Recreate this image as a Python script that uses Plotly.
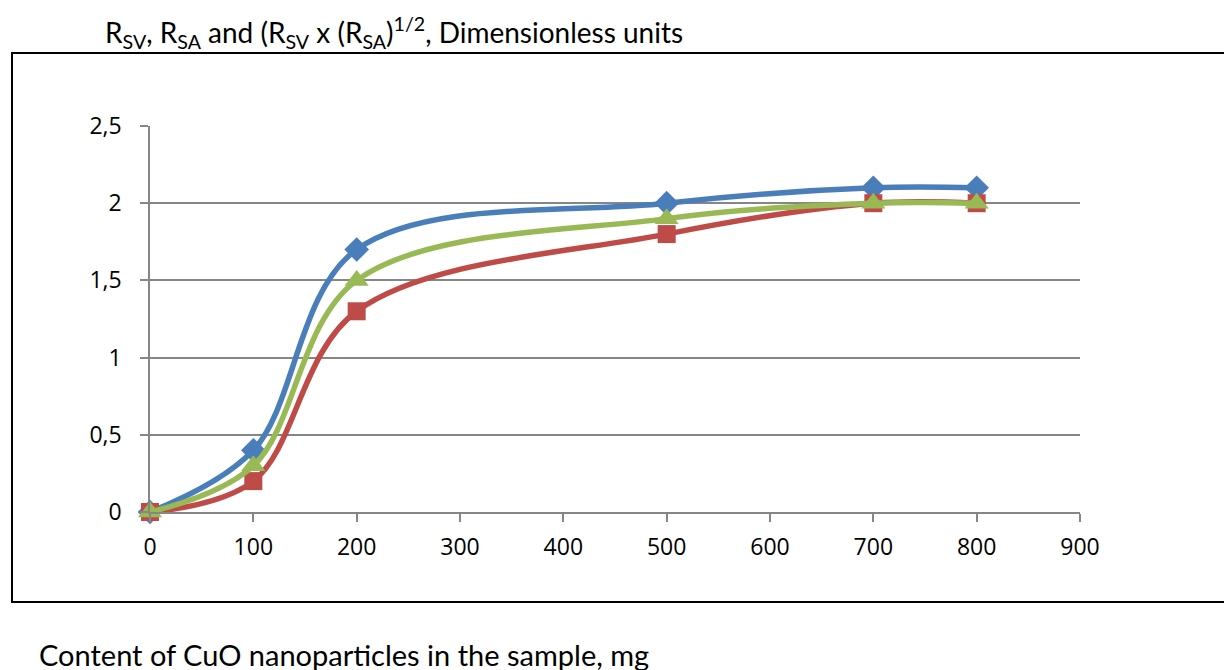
import plotly.graph_objects as go

x_mg = [0, 100, 200, 500, 700, 800]
r_sv = [0, 0.4, 1.7, 2.0, 2.1, 2.1]
r_sa = [0, 0.2, 1.3, 1.8, 2.0, 2.0]
r_geo = [0, 0.3, 1.5, 1.9, 2.0, 2.0]
x_ticks = [0, 100, 200, 300, 400, 500, 600, 700, 800, 900]
y_ticks = [0, 0.5, 1, 1.5, 2, 2.5]

title_text = "R<sub>SV</sub>, R<sub>SA</sub> and (R<sub>SV</sub> x (R<sub>SA</sub>)<sup>1/2</sup>, Dimensionless units"
xlabel_text = "Content of CuO nanoparticles in the sample, mg"

W, H = 1224, 670
L, R, T, B = 150, 1080, 126, 512

def px(xp):
    return (xp - L) / (R - L)

def py(yp):
    return (B - yp) / (B - T)

fig = go.Figure()
series = [
    ("R_SV", r_sv, "#4A7EBB", "diamond", 19),
    ("R_SA", r_sa, "#BE4B48", "square", 18),
    ("geo", r_geo, "#98B954", "triangle-up", 21),
]
for name, ys, col, sym, sz in series:
    fig.add_trace(go.Scatter(
        x=x_mg, y=ys, mode="lines+markers", name=name,
        line=dict(color=col, width=5.5, shape="spline", smoothing=1.0),
        marker=dict(symbol=sym, size=sz, color=col, line=dict(width=0)),
        cliponaxis=False,
    ))

tickfont = dict(family="Open Sans", size=23, color="#000000")
fig.update_layout(
    width=W, height=H,
    margin=dict(l=L, r=W - R, t=T, b=H - B, pad=0),
    paper_bgcolor="white", plot_bgcolor="white",
    showlegend=False,
    separators=", ",
    font=dict(family="Open Sans"),
    xaxis=dict(range=[0, 900], tickvals=x_ticks, showgrid=False, zeroline=False,
               showline=True, linecolor="#868686", linewidth=1.5,
               ticks="outside", ticklen=8, tickcolor="#868686", tickwidth=1.5,
               tickfont=tickfont, ticklabelstandoff=6),
    yaxis=dict(range=[0, 2.5], tickvals=y_ticks, showgrid=True, gridcolor="#868686",
               gridwidth=1.5, zeroline=False,
               showline=True, linecolor="#868686", linewidth=1.5,
               ticks="outside", ticklen=8, tickcolor="#868686", tickwidth=1.5,
               tickfont=tickfont, ticklabelstandoff=14),
)

fig.add_shape(type="rect", xref="paper", yref="paper",
              x0=px(12), x1=px(1235), y0=py(602), y1=py(53),
              line=dict(color="black", width=2), fillcolor="rgba(0,0,0,0)", layer="below")

fig.add_annotation(text=title_text, xref="paper", yref="paper",
                   x=px(103), y=py(32), xanchor="left", yanchor="middle",
                   showarrow=False, font=dict(family="Lato", size=28, color="#000000"))
fig.add_annotation(text=xlabel_text, xref="paper", yref="paper",
                   x=px(37), y=py(654), xanchor="left", yanchor="middle",
                   showarrow=False, font=dict(family="Lato", size=29, color="#000000"))

fig.write_html("out.html")
